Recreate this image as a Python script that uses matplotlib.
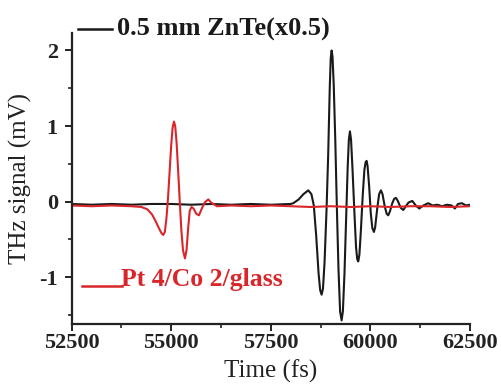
import matplotlib
matplotlib.use("Agg")
import matplotlib.pyplot as plt
from matplotlib.lines import Line2D

# ---- data ----
black_t = [52500, 53000, 53500, 54000, 54500, 55000, 55500, 56000, 56500, 57000,
           57500, 58000, 58065, 58200, 58320, 58441, 58520, 58580, 58640, 58700,
           58740, 58776, 58810, 58850, 58900, 58940, 58980, 59005, 59027, 59050,
           59080, 59120, 59160, 59200, 59240, 59278, 59310, 59350, 59390, 59430,
           59460, 59487, 59515, 59550, 59600, 59640, 59670, 59696, 59725, 59760,
           59810, 59850, 59880, 59905, 59930, 59970, 60010, 60050, 60089, 60120,
           60170, 60220, 60265, 60305, 60360, 60410, 60449, 60490, 60550, 60600,
           60642, 60690, 60760, 60826, 60890, 60960, 61052, 61140, 61228, 61330,
           61454, 61560, 61680, 61800, 61920, 62040, 62123, 62200, 62300, 62400,
           62500]
black_v = [-0.03, -0.04, -0.03, -0.04, -0.03, -0.03, -0.04, -0.03, -0.04, -0.03,
           -0.04, -0.03, -0.02, 0.03, 0.10, 0.15, 0.10, -0.05, -0.45, -0.95,
           -1.17, -1.23, -1.15, -0.80, -0.10, 0.60, 1.50, 1.90, 2.00, 1.92,
           1.55, 0.80, -0.10, -0.90, -1.45, -1.57, -1.45, -0.95, -0.25, 0.45,
           0.82, 0.93, 0.82, 0.45, -0.15, -0.60, -0.76, -0.79, -0.70, -0.40,
           0.10, 0.42, 0.52, 0.54, 0.47, 0.20, -0.15, -0.35, -0.40, -0.34,
           -0.10, 0.10, 0.15, 0.10, -0.06, -0.16, -0.18, -0.13, -0.02, 0.04,
           0.05, 0.01, -0.08, -0.11, -0.06, -0.01, 0.01, -0.05, -0.09, -0.05,
           -0.02, -0.05, -0.04, -0.06, -0.04, -0.05, -0.09, -0.03, -0.02, -0.05,
           -0.04]

red_t = [52500, 53000, 53500, 54000, 54250, 54400, 54520, 54620, 54700, 54760,
         54800, 54840, 54880, 54920, 54960, 55000, 55035, 55069, 55100, 55135,
         55175, 55215, 55255, 55295, 55345, 55385, 55425, 55465, 55510, 55560,
         55630, 55697, 55760, 55840, 55931, 56000, 56150, 56500, 57000, 57500,
         58000, 58500, 59000, 59500, 60000, 60500, 61000, 61500, 62000, 62500]
red_v = [-0.05, -0.06, -0.05, -0.06, -0.07, -0.10, -0.17, -0.27, -0.36, -0.42,
         -0.44, -0.40, -0.22, 0.05, 0.40, 0.75, 0.98, 1.06, 1.00, 0.78,
         0.40, 0.00, -0.38, -0.64, -0.75, -0.64, -0.35, -0.12, -0.07, -0.09,
         -0.16, -0.18, -0.10, -0.01, 0.03, -0.01, -0.06, -0.05, -0.06, -0.05,
         -0.06, -0.07, -0.06, -0.07, -0.06, -0.07, -0.06, -0.06, -0.07, -0.06]

x_ticks = [52500, 55000, 57500, 60000, 62500]
y_ticks = [-1, 0, 1, 2]
black_label = "0.5 mm ZnTe(x0.5)"
red_label = "Pt 4/Co 2/glass"

RED = "#d8262a"
plt.rcParams['font.family'] = ['Liberation Serif', 'DejaVu Serif']

fig = plt.figure(figsize=(5.01, 3.85), dpi=100)
ax = fig.add_axes([0.143, 0.158, 0.795, 0.756])

ax.plot(black_t, black_v, color="#1a1a1a", lw=1.5, solid_joinstyle="round")
ax.plot(red_t, red_v, color=RED, lw=1.5, solid_joinstyle="round")

ax.set_xlim(52500, 62500)
ax.set_ylim(-1.62, 2.23)
ax.set_xticks(x_ticks)
ax.set_xticklabels([str(t) for t in x_ticks])
ax.set_yticks(y_ticks)
ax.set_yticklabels([str(t) for t in y_ticks])
ax.set_xticks([53750, 56250, 58750, 61250], minor=True)
ax.set_yticks([-1.5, -0.5, 0.5, 1.5], minor=True)

for s in ("top", "right"):
    ax.spines[s].set_visible(False)
for s in ("left", "bottom"):
    ax.spines[s].set_linewidth(1.6)
    ax.spines[s].set_color("#222222")

ax.tick_params(which="major", direction="out", length=5, width=1.4,
               labelsize=16, colors="#222222")
ax.tick_params(axis="x", which="major", pad=1)
ax.tick_params(axis="y", which="major", pad=5)
ax.tick_params(which="minor", direction="out", length=3, width=1.2, colors="#222222")
for lab in ax.get_xticklabels() + ax.get_yticklabels():
    lab.set_fontweight("bold")

ax.set_xlabel("Time (fs)", fontsize=18, color="#222222", labelpad=5)
ax.set_ylabel("THz signal (mV)", fontsize=18, color="#222222", labelpad=5)

# legends
ax.add_line(Line2D([0.016, 0.101], [1.014, 1.014], transform=ax.transAxes,
                   color="#1a1a1a", lw=1.8, clip_on=False))
ax.text(0.115, 1.014, black_label, transform=ax.transAxes, fontsize=19,
        fontweight="bold", color="#1a1a1a", va="center", ha="left")
ax.add_line(Line2D([0.026, 0.126], [0.132, 0.132], transform=ax.transAxes,
                   color=RED, lw=1.8, clip_on=False))
ax.text(0.124, 0.153, red_label, transform=ax.transAxes, fontsize=18.5,
        fontweight="bold", color=RED, va="center", ha="left")

fig.savefig("out.png", dpi=100)
